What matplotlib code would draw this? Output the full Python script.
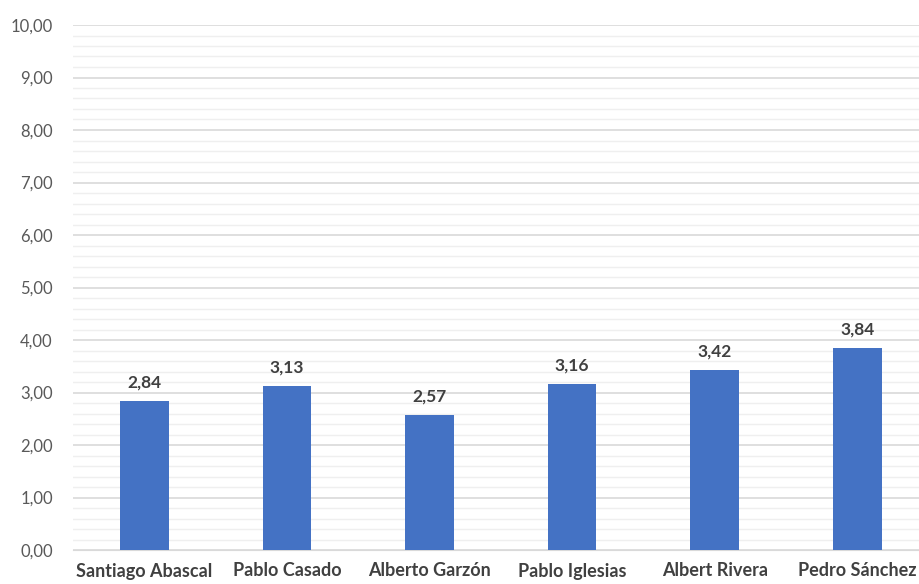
import numpy as np
import matplotlib.pyplot as plt
from matplotlib.ticker import MultipleLocator, FuncFormatter

names = ["Santiago Abascal", "Pablo Casado", "Alberto Garzón",
         "Pablo Iglesias", "Albert Rivera", "Pedro Sánchez"]
scores = [2.84, 3.13, 2.57, 3.16, 3.42, 3.84]

plt.rcParams["font.family"] = ["Lato", "DejaVu Sans"]


def comma(v, pos=None):
    return f"{v:.2f}".replace(".", ",")


fig = plt.figure(figsize=(9.2, 5.84), dpi=100)
# axes runs slightly past the right edge, like the cropped original
ax = fig.add_axes([73 / 920, 1 - 550 / 584, 855.6 / 920, 525 / 584])

x = np.arange(len(names))
bars = ax.bar(x, scores, width=0.34, color="#4472C4", zorder=3)

for b, v in zip(bars, scores):
    ax.text(b.get_x() + b.get_width() / 2, v + 0.2, comma(v),
            ha="center", va="bottom", fontsize=12.5, fontweight="bold",
            color="#404040")

ax.set_xlim(-0.5, len(names) - 0.5)
ax.set_ylim(0, 10)
ax.yaxis.set_major_locator(MultipleLocator(1))
ax.yaxis.set_minor_locator(MultipleLocator(0.2))
ax.yaxis.set_major_formatter(FuncFormatter(comma))
ax.grid(axis="y", which="major", color="#D9D9D9", linewidth=1.2, zorder=0)
ax.grid(axis="y", which="minor", color="#EFEFEF", linewidth=1.0, zorder=0)

ax.set_xticks(x)
ax.set_xticklabels(names, fontsize=13, fontweight="bold", color="#404040")
ax.tick_params(axis="y", which="both", length=0, labelsize=12,
               labelcolor="#595959", pad=14.5)
ax.tick_params(axis="x", length=0, pad=9)

for s in ["top", "right", "left"]:
    ax.spines[s].set_visible(False)
ax.spines["bottom"].set_color("#D9D9D9")

fig.savefig("out.png", dpi=100)
